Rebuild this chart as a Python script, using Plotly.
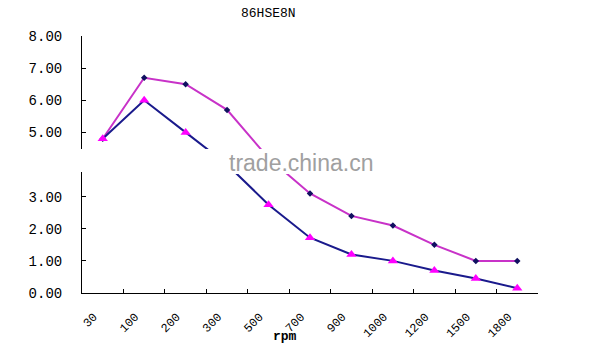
import plotly.graph_objects as go

rpm = ["30", "100", "200", "300", "500", "700", "900", "1000", "1200", "1500", "1800"]
upper = [4.8, 6.7, 6.5, 5.7, 4.2, 3.1, 2.4, 2.1, 1.5, 1.0, 1.0]
lower = [4.8, 6.0, 5.0, 4.0, 2.75, 1.72, 1.2, 1.0, 0.7, 0.45, 0.15]
y_ticks = [0, 1, 2, 3, 5, 6, 7, 8]
y_ticktext = ["0.00", "1.00", "2.00", "3.00", "5.00", "6.00", "7.00", "8.00"]

W, H = 600, 343
L, R, T, B = 82, 62, 36, 50
pw, ph = W - L - R, H - T - B


def px(xp):
    return (xp - L) / pw


def py(yp):
    return (H - B - yp) / ph


fig = go.Figure()
fig.add_trace(go.Scatter(
    x=rpm, y=upper, mode="lines+markers",
    line=dict(color="#C832C8", width=2),
    marker=dict(symbol="diamond", size=5, color="#101060"),
    showlegend=False,
))
fig.add_trace(go.Scatter(
    x=rpm, y=lower, mode="lines+markers",
    line=dict(color="#1A1A8C", width=2),
    marker=dict(symbol="triangle-up", size=9, color="#FF00FF"),
    showlegend=False,
))

mono = "Liberation Mono"
fig.update_layout(
    width=W, height=H,
    margin=dict(l=L, r=R, t=T, b=B, autoexpand=False),
    paper_bgcolor="white", plot_bgcolor="white",
    xaxis=dict(
        type="category", range=[-0.5, 10.5], automargin=False,
        showgrid=False, showline=True, linecolor="black", linewidth=1,
        ticks="inside", ticklen=4, tickcolor="black", tickson="boundaries",
        tickangle=-45, tickfont=dict(family=mono, size=12, color="black"),
        ticklabelstandoff=11, ticklabelshift=-9,
        zeroline=False,
    ),
    yaxis=dict(
        range=[0, 8], showgrid=False, showline=True, linecolor="black", linewidth=1,
        ticks="inside", ticklen=4, tickcolor="black", automargin=False,
        tickvals=y_ticks, ticktext=y_ticktext,
        tickfont=dict(family=mono, size=14, color="black"),
        ticklabelstandoff=16,
        zeroline=False,
    ),
    shapes=[
        dict(type="rect", xref="paper", yref="paper",
             x0=px(203), x1=px(380), y0=py(174), y1=py(149),
             fillcolor="white", line=dict(width=0), layer="above"),
        dict(type="rect", xref="paper", yref="paper",
             x0=px(74), x1=px(90), y0=py(172), y1=py(149),
             fillcolor="white", line=dict(width=0), layer="above"),
    ],
    annotations=[
        dict(text="86HSE8N", xref="paper", yref="paper", x=px(268), y=py(13),
             showarrow=False, xanchor="center", yanchor="middle",
             font=dict(family=mono, size=13, color="black")),
        dict(text="<b>rpm</b>", xref="paper", yref="paper", x=px(285), y=py(336),
             showarrow=False, xanchor="center", yanchor="middle",
             font=dict(family=mono, size=13, color="black")),
        dict(text="trade.china.cn", xref="paper", yref="paper", x=px(301), y=py(163),
             showarrow=False, xanchor="center", yanchor="middle",
             font=dict(family="Liberation Sans", size=23, color="#A0A0A0")),
    ],
)

fig.write_html("out.html")
